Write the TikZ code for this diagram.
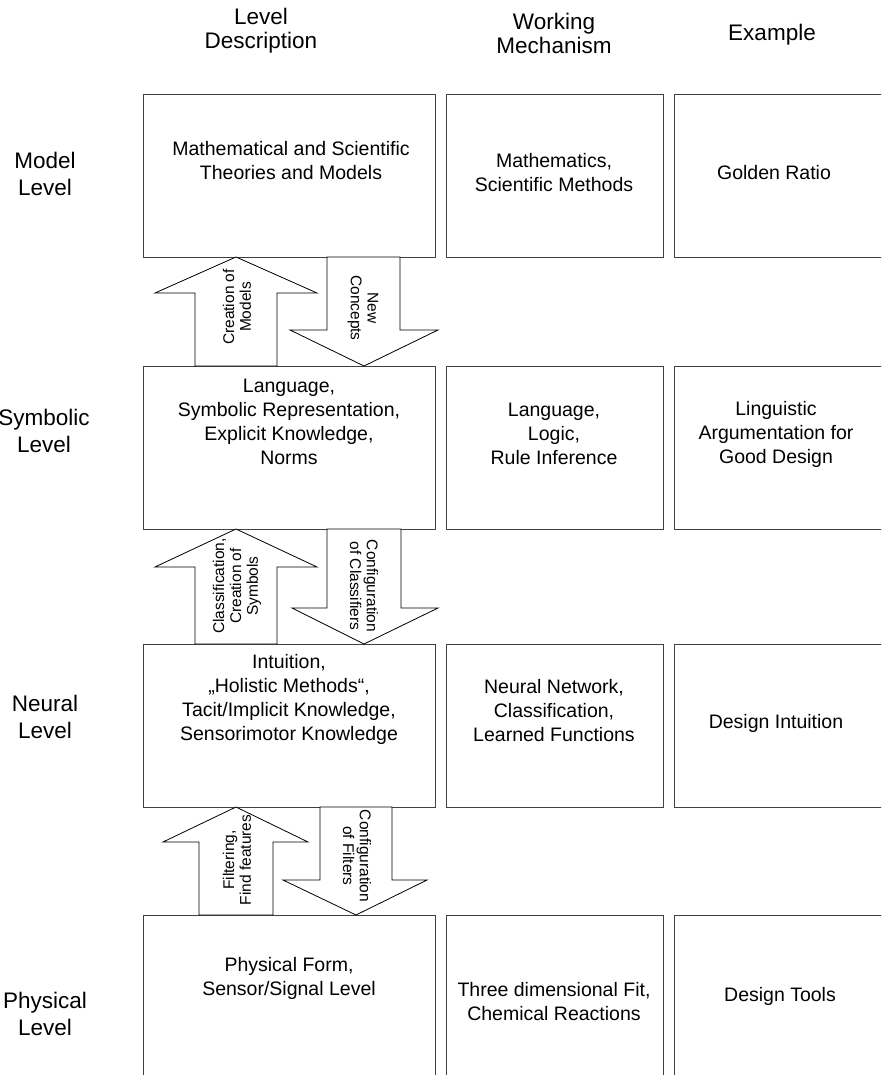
\documentclass[tikz,border=0pt]{standalone}
\usepackage{fontspec}
\setmainfont{Liberation Sans}
\begin{document}
\begin{tikzpicture}[x=1pt,y=-1pt,
  box/.style={draw=black!75, line width=0.9pt, inner sep=0pt, outer sep=0pt, anchor=north west, minimum height=163pt},
  wide/.style={box, minimum width=292pt},
  mid/.style={box, minimum width=217pt},
  right/.style={box, minimum width=212pt},
  txt/.style={align=center, inner sep=0pt, font=\fontsize{19.5}{24}\selectfont},
  head/.style={align=center, inner sep=0pt, font=\fontsize{22.5}{24}\selectfont},
  lab/.style={align=center, inner sep=0pt, font=\fontsize{22.5}{27.5}\selectfont},
  blk/.style={draw=black, line width=0.8pt, fill=white, line join=miter},
  atxt/.style={align=center, inner sep=0pt, font=\fontsize{15.5}{16.8}\selectfont}]
\useasboundingbox (0,0) rectangle (881,1075);
\clip (0,0) rectangle (881,1075);

% headers
\node[head] (h1) at (261,31) {Level\\Description};
\node[head] (h2) at (554,33) {Working\\Mechanism};
\node[head] (h3) at (772,35) {Example};

% row labels
\node[lab] (l1) at (45,174) {Model\\Level};
\node[lab] (l2) at (44,431) {Symbolic\\Level};
\node[lab] (l3) at (45,717) {Neural\\Level};
\node[lab] (l4) at (45,1014) {Physical\\Level};

% boxes
\node[wide] (d1) at (143,94) {};
\node[mid]  (m1) at (446,94) {};
\node[right] (e1) at (674,94) {};
\node[wide] (d2) at (143,366) {};
\node[mid]  (m2) at (446,366) {};
\node[right] (e2) at (674,366) {};
\node[wide] (d3) at (143,644) {};
\node[mid]  (m3) at (446,644) {};
\node[right] (e3) at (674,644) {};
\node[wide] (d4) at (143,915) {};
\node[mid]  (m4) at (446,915) {};
\node[right] (e4) at (674,915) {};

% box texts
\node[txt] (td1) at (291,161) {Mathematical and Scientific\\Theories and Models};
\node[txt] (tm1) at (554,173) {Mathematics,\\Scientific Methods};
\node[txt] (te1) at (774,173) {Golden Ratio};
\node[txt] (td2) at (289,422) {Language,\\Symbolic Representation,\\Explicit Knowledge,\\Norms};
\node[txt] (tm2) at (554,434) {Language,\\Logic,\\Rule Inference};
\node[txt] (te2) at (776,434) {Linguistic\\Argumentation for\\Good Design};
\node[txt] (td3) at (289,699) {Intuition,\\„Holistic Methods“,\\Tacit/Implicit Knowledge,\\Sensorimotor Knowledge};
\node[txt] (tm3) at (554,711) {Neural Network,\\Classification,\\Learned Functions};
\node[txt] (te3) at (776,723) {Design Intuition};
\node[txt] (td4) at (289,978) {Physical Form,\\Sensor/Signal Level};
\node[txt] (tm4) at (554,1002) {Three dimensional Fit,\\Chemical Reactions};
\node[txt] (te4) at (780,996) {Design Tools};

% block arrows between row 1 and 2
\draw[blk] (236,257) -- (317,293) -- (277,293) -- (277,366) -- (195,366) -- (195,293) -- (155,293) -- cycle;
\draw[blk] (327,257) -- (400,257) -- (400,330) -- (438,330) -- (364,366) -- (290,330) -- (327,330) -- cycle;
\node[atxt, rotate=90] (a1u) at (237,307) {Creation of\\Models};
\node[atxt, rotate=-90] (a1d) at (363,308) {New\\Concepts};

% row 2 to 3
\draw[blk] (236,529) -- (317,567) -- (277,567) -- (277,644) -- (195,644) -- (195,567) -- (155,567) -- cycle;
\draw[blk] (327,529) -- (401,529) -- (401,608) -- (438,608) -- (364,644) -- (292,608) -- (327,608) -- cycle;
\node[atxt, rotate=90] (a2u) at (237,586) {Classification,\\Creation of\\Symbols};
\node[atxt, rotate=-90] (a2d) at (364,586) {Configuration\\of Classifiers};

% row 3 to 4
\draw[blk] (236,807) -- (308,842) -- (273,842) -- (273,915) -- (199,915) -- (199,842) -- (163,842) -- cycle;
\draw[blk] (320,807) -- (392,807) -- (392,880) -- (427,880) -- (356,915) -- (283,880) -- (320,880) -- cycle;
\node[atxt, rotate=90] (a3u) at (237,860) {Filtering,\\Find features};
\node[atxt, rotate=-90] (a3d) at (357,856) {Configuration\\of Filters};
\end{tikzpicture}
\end{document}
